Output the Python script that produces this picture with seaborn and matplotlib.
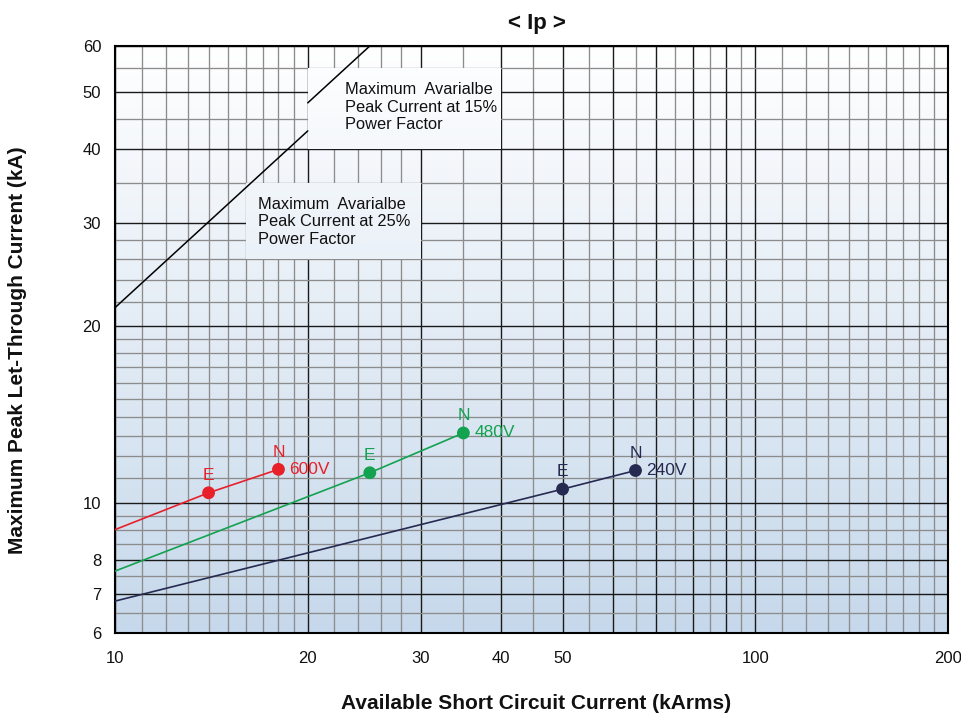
import numpy as np
import matplotlib
matplotlib.use("Agg")   # no display: render straight to file
import matplotlib.pyplot as plt
import seaborn as sns
from matplotlib.patches import Rectangle
from matplotlib.colors import LinearSegmentedColormap
from matplotlib.ticker import NullFormatter

# --- data ---
voltages = ["600V", "480V", "240V"]
colors = ["#e8202a", "#13a24f", "#262a50"]

# value of each curve where it enters the chart (x = 10 kArms)
start_x = [10, 10, 10]
start_y = [9.0, 7.65, 6.8]
# E and N rating points
e_x = [14, 25, 50]
e_y = [10.4, 11.25, 10.55]
n_x = [18, 35, 65]
n_y = [11.4, 13.15, 11.35]

# maximum available peak current lines
pf25_x = [10, 20]
pf25_y = [21.5, 43.0]
pf15_x = [20, 25]
pf15_y = [48.0, 60.0]

# grid: dark (major) and grey (minor) lines, as on the printed chart paper
x_major = [10, 20, 30, 40, 50, 60, 70, 80, 90, 100, 200]
x_labels = ["10", "20", "30", "40", "50", "", "", "", "", "100", "200"]
x_minor = [11, 12, 13, 14, 15, 16, 17, 18, 19, 22, 24, 26, 28, 35, 45,
           55, 65, 75, 85, 95, 110, 120, 130, 140, 150, 160, 170, 180, 190]
y_major = [6, 7, 8, 10, 20, 30, 40, 50, 60]
y_labels = ["6", "7", "8", "10", "20", "30", "40", "50", "60"]
y_minor = [6.5, 7.5, 8.5, 9, 9.5, 11, 12, 13, 14, 15, 16, 17, 18, 19,
           22, 24, 26, 28, 35, 45, 55]

# note boxes (x0, x1, y0, y1) in data units, and their text
box_15 = (20, 40, 40, 55)
box_25 = (16, 30, 26, 35)
text_15 = "Maximum  Avarialbe\nPeak Current at 15%\nPower Factor"
text_25 = "Maximum  Avarialbe\nPeak Current at 25%\nPower Factor"

sns.set_style("white")
plt.rcParams["font.family"] = ["Liberation Sans", "DejaVu Sans"]

fig = plt.figure(figsize=(9.61, 7.16), dpi=100)
ax = fig.add_axes([0.1197, 0.1159, 0.8668, 0.8199])
ax.set_xscale("log")
ax.set_yscale("log")

# --- background gradient (white at top, pale blue at bottom) ---
grad_cmap = LinearSegmentedColormap.from_list("bg", ["#ffffff", "#c6d8eb"])
grad = np.linspace(0, 1, 256).reshape(-1, 1)
ax.imshow(grad, cmap=grad_cmap, extent=[0, 1, 0, 1], transform=ax.transAxes,
          aspect="auto", origin="upper", zorder=0)

# --- grid ---
ax.set_axisbelow(True)
ax.set_xticks(x_major, labels=x_labels)
ax.set_xticks(x_minor, minor=True)
ax.set_yticks(y_major, labels=y_labels)
ax.set_yticks(y_minor, minor=True)
ax.xaxis.set_minor_formatter(NullFormatter())
ax.yaxis.set_minor_formatter(NullFormatter())
ax.grid(which="major", color="#1a1a1a", lw=1.0)
ax.grid(which="minor", color="#8c8c8c", lw=0.95)
ax.tick_params(which="both", length=0)
ax.tick_params(axis="x", pad=13, labelsize=12, labelcolor="#111111")
ax.tick_params(axis="y", pad=10, labelsize=12, labelcolor="#111111")

# --- note boxes: same gradient, hiding the grid below ---
for (x0, x1, y0, y1), txt in [(box_15, text_15), (box_25, text_25)]:
    rect = Rectangle((x0, y0), x1 - x0, y1 - y0, transform=ax.transData,
                     facecolor="none", edgecolor="none")
    ax.add_patch(rect)
    im = ax.imshow(grad, cmap=grad_cmap, extent=[0, 1, 0, 1],
                   transform=ax.transAxes, aspect="auto", origin="upper",
                   zorder=1)
    im.set_clip_path(rect)

ax.text(22.9, 52.0, text_15, ha="left", va="top", fontsize=11.8,
        linespacing=1.2, color="#111111", zorder=3)
ax.text(16.7, 33.2, text_25, ha="left", va="top", fontsize=11.8,
        linespacing=1.2, color="#111111", zorder=3)

# --- power factor lines ---
sns.lineplot(x=pf25_x, y=pf25_y, color="black", lw=1.1, ax=ax, zorder=2)
sns.lineplot(x=pf15_x, y=pf15_y, color="black", lw=1.1, ax=ax, zorder=2)

# --- voltage curves with E / N points ---
for k in range(len(voltages)):
    xs = [start_x[k], e_x[k], n_x[k]]
    ys = [start_y[k], e_y[k], n_y[k]]
    sns.lineplot(x=xs, y=ys, color=colors[k], lw=1.2, ax=ax, zorder=3)
    sns.scatterplot(x=[e_x[k], n_x[k]], y=[e_y[k], n_y[k]], color=colors[k],
                    s=85, edgecolor="none", ax=ax, zorder=4)
    ax.annotate("E", (e_x[k], e_y[k]), xytext=(0, 7), textcoords="offset points",
                ha="center", va="bottom", color=colors[k], fontsize=12.5)
    ax.annotate("N", (n_x[k], n_y[k]), xytext=(0, 7), textcoords="offset points",
                ha="center", va="bottom", color=colors[k], fontsize=12.5)
    ax.annotate(voltages[k], (n_x[k], n_y[k]), xytext=(8, 0),
                textcoords="offset points", ha="left", va="center",
                color=colors[k], fontsize=12.5)

ax.set_xlim(10, 200)
ax.set_ylim(6, 60)
for side in ax.spines.values():
    side.set_color("black")
    side.set_linewidth(1.5)

ax.set_title("< Ip >", fontsize=16, fontweight="bold", pad=12, x=0.507,
             color="#111111")
ax.set_xlabel("Available Short Circuit Current (kArms)", fontsize=15,
              fontweight="bold", color="#111111")
ax.set_ylabel("Maximum Peak Let-Through Current (kA)", fontsize=15,
              fontweight="bold", color="#111111")
ax.xaxis.set_label_coords(0.506, -0.104)
ax.yaxis.set_label_coords(-0.106, 0.482)

fig.savefig("out.png", dpi=100)
plt.close(fig)
